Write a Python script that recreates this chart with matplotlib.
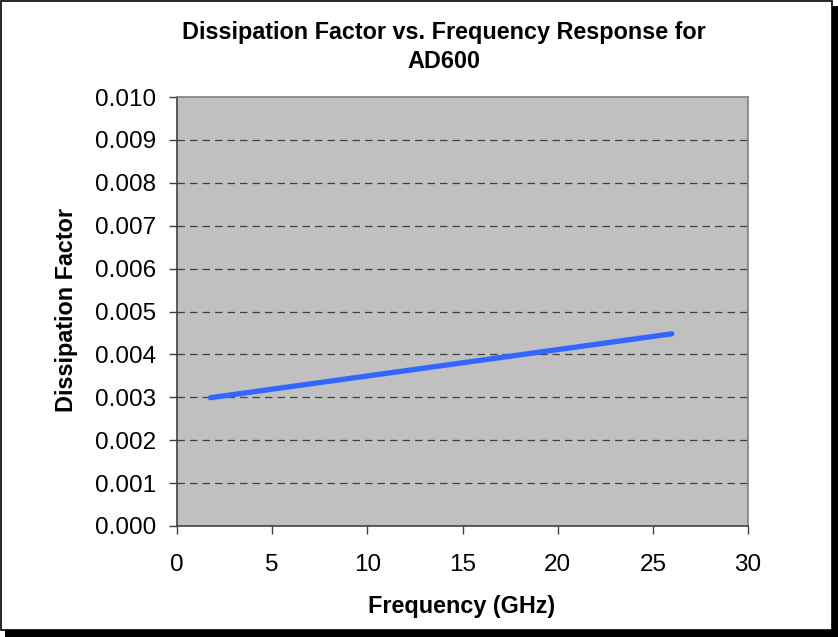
import numpy as np
import matplotlib.pyplot as plt
from matplotlib.patches import Rectangle

plt.rcParams['font.family'] = ['Liberation Sans', 'DejaVu Sans']

# data
freq_ghz = [1.75, 26.0]
diss_factor = [0.00299, 0.00448]
x_ticks = [0, 5, 10, 15, 20, 25, 30]
y_ticks = [0.000, 0.001, 0.002, 0.003, 0.004, 0.005, 0.006, 0.007, 0.008, 0.009, 0.010]

W, H = 838, 637
fig = plt.figure(figsize=(W / 100, H / 100), dpi=100)
fig.patch.set_facecolor('white')

# outer frame with drop shadow, like the Excel chart box
fig.patches.append(Rectangle((5 / W, 0), (W - 5) / W, (H - 6) / H, transform=fig.transFigure,
                             facecolor='black', edgecolor='none', zorder=0))
fig.patches.append(Rectangle((1 / W, 7 / H), (W - 7) / W, (H - 8) / H, transform=fig.transFigure,
                             facecolor='white', edgecolor='black', linewidth=1.2, zorder=1))

ax = fig.add_axes([177 / W, 1 - 526 / H, (748 - 177) / W, (526 - 97) / H])
ax.set_facecolor('#C0C0C0')
ax.set_zorder(2)

ax.plot(freq_ghz, diss_factor, color='#3366FF', linewidth=3.8, solid_capstyle='round', zorder=3)

ax.set_xlim(0, 30)
ax.set_ylim(0, 0.010)
ax.set_xticks(x_ticks)
ax.set_yticks(y_ticks)
ax.set_yticklabels(['%.3f' % v for v in y_ticks])
ax.tick_params(axis='both', direction='out', length=6, width=1, color='#404040',
               labelsize=17.5)
ax.tick_params(axis='x', pad=14)
ax.tick_params(axis='y', pad=9)

for v in y_ticks[1:-1]:
    ax.axhline(v, color='#404040', linestyle=(0, (6, 4)), linewidth=0.9, zorder=2)

for side in ['left', 'bottom']:
    ax.spines[side].set_color('#404040')
    ax.spines[side].set_linewidth(1.2)
for side in ['top', 'right']:
    ax.spines[side].set_color('#808080')
    ax.spines[side].set_linewidth(1.2)

fig.text(444 / W, 1 - 32 / H, 'Dissipation Factor vs. Frequency Response for',
         fontsize=16.8, fontweight='bold', ha='center', va='center')
fig.text(444 / W, 1 - 62 / H, 'AD600',
         fontsize=16.8, fontweight='bold', ha='center', va='center')
fig.text(462 / W, 1 - 607 / H, 'Frequency (GHz)',
         fontsize=16.8, fontweight='bold', ha='center', va='center')
fig.text(67 / W, 1 - 310 / H, 'Dissipation Factor', rotation=90,
         fontsize=16.8, fontweight='bold', ha='center', va='center')

fig.savefig('out.png', dpi=100)
